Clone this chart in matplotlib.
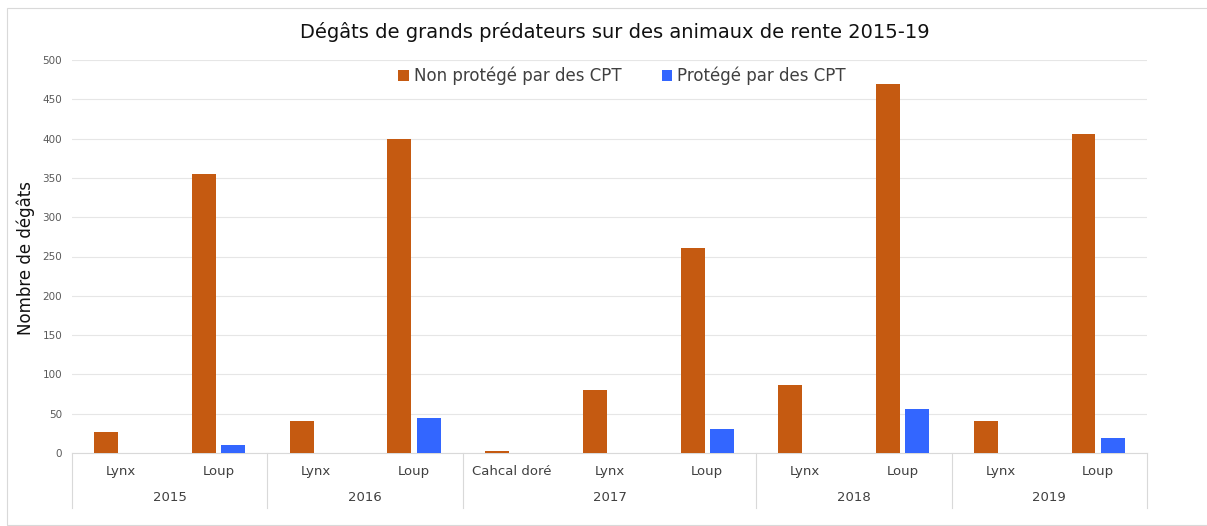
import matplotlib.pyplot as plt
from matplotlib.patches import Rectangle
import numpy as np

# data
years = ["2015", "2016", "2017", "2018", "2019"]
year_sizes = [2, 2, 3, 2, 2]
categories = ["Lynx", "Loup", "Lynx", "Loup", "Cahcal doré", "Lynx", "Loup",
              "Lynx", "Loup", "Lynx", "Loup"]
non_protege = [27, 355, 41, 400, 2, 80, 261, 86, 470, 41, 406]
protege = [0, 10, 0, 45, 0, 0, 30, 0, 56, 0, 19]

orange = '#C55A11'
blue = '#3366FF'

fig = plt.figure(figsize=(12.07, 5.26), dpi=100)
ax = fig.add_axes([72 / 1207, 73 / 526, 1075 / 1207, 393 / 526])

x = np.arange(len(categories))
w = 0.245
ax.bar(x - 0.15, non_protege, w, color=orange, label='Non protégé par des CPT', zorder=3)
ax.bar(x + 0.15, protege, w, color=blue, label='Protégé par des CPT', zorder=3)

ax.set_xlim(-0.5, len(categories) - 0.5)
ax.set_ylim(0, 500)
ax.set_yticks(np.arange(0, 501, 50))
ax.tick_params(axis='y', length=0, labelsize=7.5, labelcolor='#595959', pad=7)
ax.set_xticks([])
ax.grid(axis='y', color='#E6E6E6', linewidth=0.8, zorder=0)
for s in ['top', 'right', 'left']:
    ax.spines[s].set_visible(False)
ax.spines['bottom'].set_color('#D9D9D9')

# category labels and year groups under the axis
trans = ax.get_xaxis_transform()
for xi, c in zip(x, categories):
    ax.text(xi, -0.048, c, transform=trans, ha='center', va='center',
            fontsize=9.5, color='#404040')
start = -0.5
ax.plot([start, start], [0, -0.14], transform=trans, color='#D9D9D9', lw=0.8, clip_on=False)
for y, n in zip(years, year_sizes):
    end = start + n
    ax.text((start + end) / 2, -0.112, y, transform=trans, ha='center', va='center',
            fontsize=9.5, color='#404040')
    ax.plot([end, end], [0, -0.14], transform=trans, color='#D9D9D9', lw=0.8, clip_on=False)
    start = end

fig.text(615 / 1207, 1 - 32 / 526, 'Dégâts de grands prédateurs sur des animaux de rente 2015-19',
         ha='center', va='center', fontsize=14, color='#111111')
fig.text(26 / 1207, 1 - 258 / 526, 'Nombre de dégâts', rotation=90, ha='center',
         va='center', fontsize=12, color='#111111')

ax.legend(loc='center', bbox_to_anchor=(622 / 1207, 1 - 76 / 526), bbox_transform=fig.transFigure,
          ncol=2, frameon=False, fontsize=12, handlelength=0.65, handleheight=0.65,
          handletextpad=0.3, columnspacing=2.4, labelcolor='#404040')

fig.patches.append(Rectangle((7 / 1207, 1 / 526), 1.0, 517 / 526, transform=fig.transFigure,
                             fill=False, edgecolor='#D9D9D9', lw=0.8))

fig.savefig('out.png', dpi=100)
